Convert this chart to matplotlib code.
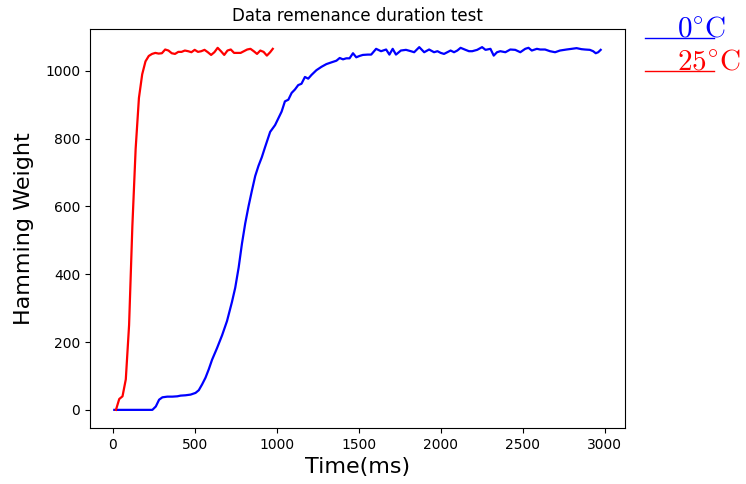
import matplotlib
matplotlib.use("Agg")
import matplotlib.pyplot as plt
from matplotlib.lines import Line2D

plt.rcParams['mathtext.fontset'] = 'cm'

# 25°C series (red)
t_25 = [20, 40, 60, 80, 100, 120, 140, 160, 180, 200, 220, 240, 260, 280, 300,
        320, 340, 360, 380, 400, 420, 440, 460, 480, 500, 520, 540, 560, 580,
        600, 620, 640, 660, 680, 700, 720, 740, 760, 780, 800, 820, 840, 860,
        880, 900, 920, 940, 960, 976]
hw_25 = [0, 32, 40, 90, 250, 542, 770, 920, 990, 1028, 1044, 1050, 1053, 1051,
         1052, 1063, 1060, 1052, 1050, 1056, 1056, 1060, 1058, 1055, 1062, 1056,
         1058, 1062, 1055, 1047, 1055, 1068, 1058, 1047, 1060, 1063, 1053, 1053,
         1053, 1058, 1063, 1065, 1058, 1050, 1060, 1056, 1045, 1055, 1065]

# 0°C series (blue)
t_0 = [10, 101, 202, 242, 263, 283, 303, 333, 364, 394, 414, 444, 475, 505, 525,
       545, 566, 586, 606, 636, 667, 697, 727, 747, 768, 788, 808, 828, 848,
       869, 889, 909, 929, 960, 990, 1010, 1030, 1050, 1071, 1091, 1111, 1131,
       1151, 1172, 1192, 1212, 1242, 1273, 1303, 1333, 1364, 1384, 1404, 1424,
       1444, 1465, 1485, 1505, 1525, 1555, 1576, 1606, 1636, 1667, 1687, 1707,
       1727, 1757, 1788, 1818, 1838, 1869, 1899, 1929, 1959, 1980, 2000, 2020,
       2060, 2081, 2101, 2121, 2151, 2172, 2192, 2222, 2252, 2273, 2303, 2323,
       2343, 2363, 2394, 2424, 2454, 2485, 2515, 2535, 2555, 2586, 2606, 2636,
       2666, 2697, 2727, 2767, 2798, 2828, 2858, 2879, 2909, 2929, 2945, 2960,
       2975]
hw_0 = [0, 0, 0, 0, 10, 30, 37, 39, 39, 40, 42, 43, 45, 50, 58,
        75, 95, 120, 148, 182, 220, 262, 318, 360, 420, 490, 550, 600, 645,
        690, 720, 745, 775, 820, 840, 860, 880, 910, 915, 935, 945, 958,
        962, 982, 977, 988, 1002, 1012, 1020, 1025, 1030, 1038, 1034, 1037,
        1037, 1052, 1040, 1044, 1047, 1048, 1048, 1065, 1058, 1063, 1048, 1065,
        1048, 1060, 1062, 1058, 1055, 1070, 1055, 1063, 1055, 1058, 1053, 1050,
        1060, 1055, 1060, 1068, 1062, 1058, 1058, 1062, 1070, 1062, 1065, 1045,
        1055, 1058, 1055, 1063, 1062, 1055, 1065, 1068, 1060, 1065, 1063, 1063,
        1058, 1055, 1060, 1063, 1065, 1067, 1064, 1063, 1062, 1058, 1052, 1055,
        1062]

W, H = 746, 484
fig = plt.figure(figsize=(W / 100, H / 100), dpi=100)
ax = fig.add_axes([90 / W, 1 - 428 / H, (625 - 90) / W, (428 - 29) / H])

ax.plot(t_0, hw_0, color='blue', lw=1.6)
ax.plot(t_25, hw_25, color='red', lw=1.6)

ax.set_xticks([0, 500, 1000, 1500, 2000, 2500, 3000])
ax.set_yticks([0, 200, 400, 600, 800, 1000])
ax.tick_params(labelsize=10)
ax.set_title('Data remenance duration test', fontsize=12)
ax.set_xlabel('Time(ms)', fontsize=16)
ax.set_ylabel('Hamming Weight', fontsize=16, labelpad=8)

# legend-like labels outside the axes
labels = [r'$0^{\circ}\mathrm{C}$', r'$25^{\circ}\mathrm{C}$']
colors = ['blue', 'red']
ys = [37.5, 71]
for lab, c, y in zip(labels, colors, ys):
    fig.add_artist(Line2D([645 / W, 714 / W], [1 - y / H, 1 - y / H],
                          color=c, lw=1.0, transform=fig.transFigure))
    fig.text(677 / W, 1 - (y - 1) / H, lab, color=c, fontsize=21,
             ha='left', va='baseline')

fig.savefig('out.png', dpi=100)
